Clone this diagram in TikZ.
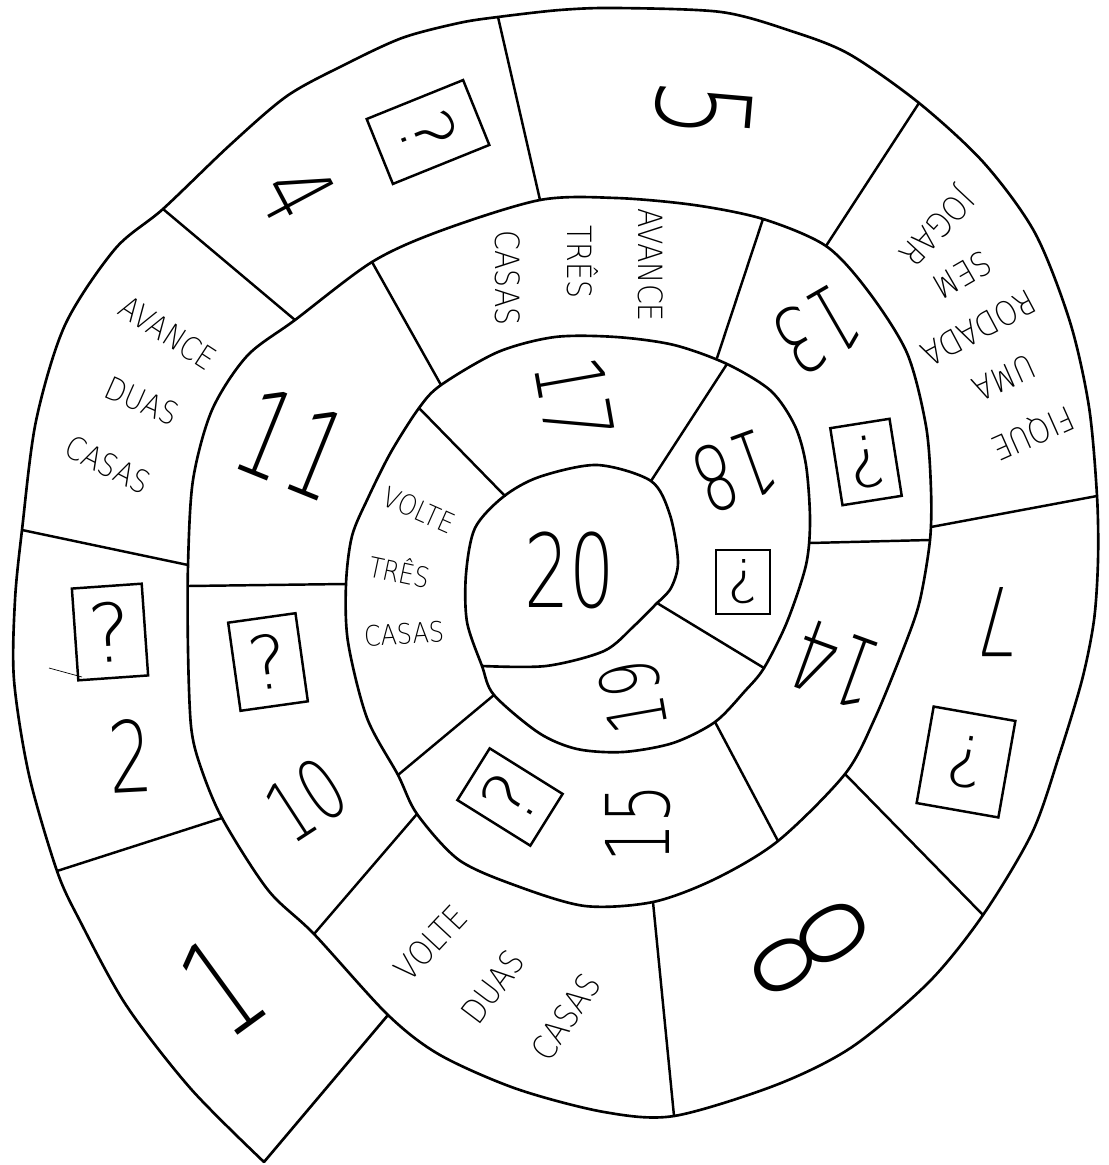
\documentclass[tikz,border=0pt]{standalone}
\usepackage{fontspec}
\setmainfont{DejaVu Sans}
\newfontfamily\numfont{DejaVu Sans ExtraLight}

\begin{document}
\begin{tikzpicture}[
		x=0.02cm, y=-0.02cm,
		% Track styles
		wall/.style={line width=1.5pt, line join=round, line cap=round},
		divider/.style={line width=1.4pt, line cap=round},
		% Label styles (size, angle)
		num/.style n args={2}{font=\numfont\fontsize{#1}{#1}\selectfont, inner sep=0pt, rotate=#2, xscale=0.7},
		words/.style n args={2}{font=\numfont\fontsize{#1}{#1}\selectfont, inner sep=0pt, rotate=#2, xscale=0.85},
		card/.style={draw, line width=1.4pt, inner sep=0pt, font=\numfont\fontsize{#1}{#1}\selectfont}
		]
		
		\useasboundingbox (0,0) rectangle (1108,1165);
		
		% --- SPIRAL TRACK ---
		
		% One line from the tip of cell 1 in to the centre
		\draw[wall] plot[smooth] coordinates {
			(264,1162) (191,1089) (126,1005) (80,921) (57,871) (29,775) (14,680) (15,600) (22,530) (36,421)
			(65,325) (115,249) (163,209) (230,145) (287,96) (344,65) (402,38) (459,23) (498,17) (560,10)
			(616,8) (721,12) (791,31) (849,54) (919,103) (984,163) (1035,233) (1070,322) (1089,407) (1097,496)
			(1098,560) (1094,620) (1082,680) (1059,756) (1032,833) (983,915) (929,982) (852,1047) (776,1085)
			(674,1116) (604,1112) (517,1089) (440,1055) (388,1015)
			(314,934) (268,890) (222,818) (200,765) (191,726) (188,650) (188,565) (193,480) (212,410) (247,356)
			(295,320) (372,262) (440,231) (540,200) (616,198) (694,205) (763,219) (826,246)
			(868,291) (907,353) (926,426) (931,490) (930,540) (920,600) (906,642) (875,718) (845,774) (778,841)
			(715,879) (653,902) (585,906) (517,886) (459,860) (417,814)
			(398,775) (367,718) (348,642) (346,584) (352,536) (368,498) (391,452) (419,408) (441,385) (498,352)
			(555,337) (616,337) (674,345) (727,364) (771,391) (795,426) (806,465) (810,520) (806,565) (787,622)
			(764,668) (745,691) (715,722) (673,743) (623,752) (577,749) (539,733) (494,695)
			(482,666) (467,622) (466,574) (475,528) (503,497) (539,477) (597,465) (651,481) (670,515) (678,562)
			(671,588) (657,603)
		};
		
		% Closing edge of cell 1, lower edge of cell 20
		\draw[wall] (388,1015) -- (264,1162);
		\draw[wall] plot[smooth] coordinates {(657,603) (634,626) (604,651) (546,666) (482,666)};
		
		% --- CELL DIVIDERS ---
		
		% Outer lap
		\draw[divider] (57,871) -- (222,818);
		\draw[divider] (22,530) -- (188,565);
		\draw[divider] (163,209) -- (295,320);
		\draw[divider] (498,17) -- (540,200);
		\draw[divider] (919,103) -- (826,246);
		\draw[divider] (1097,496) -- (931,527);
		\draw[divider] (983,915) -- (845,774);
		\draw[divider] (674,1116) -- (653,902);
		
		% Middle lap
		\draw[divider] (314,934) -- (417,814);
		\draw[divider] (188,586) -- (346,584);
		\draw[divider] (372,262) -- (441,385);
		\draw[divider] (763,219) -- (717,358);
		\draw[divider] (810,543) -- (930,540);
		\draw[divider] (715,722) -- (778,841);
		
		% Inner lap
		\draw[divider] (398,775) -- (494,695);
		\draw[divider] (419,408) -- (505,496);
		\draw[divider] (651,481) -- (727,364);
		\draw[divider] (657,603) -- (764,668);
		
		% Stray pen mark beside the card of cell 2
		\draw[line width=0.4pt] (49,668) -- (82,677);
		
		% --- NUMBERS ---
		\node[num={77}{36}] (n1) at (222,986) {1};
		\node[num={56}{3}] (n2) at (130,756) {2};
		\node[num={57}{-62}] (n4) at (297,193) {4};
		\node[num={74}{-95}] (n5) at (703,110) {5};
		\node[num={54}{180}] (n7) at (996,622) {7};
		\node[num={92}{123}] (n8) at (810,948) {8};
		\node[num={48}{33}] (n10) at (306,800) {10};
		\node[num={69}{-22}] (n11) at (293,444) {11};
		\node[num={52}{-150}] (n13) at (817,330) {13};
		\node[num={55}{160}] (n14) at (835,665) {14};
		\node[num={50}{90}] (n15) at (638,823) {15};
		\node[num={54}{-80}] (n17) at (575,400) {17};
		\node[num={51}{-160}] (n18) at (735,471) {18};
		\node[num={46}{100}] (n19) at (633,697) {19};
		\node[num={58}{0}] (n20) at (570,570) {20};
		
		% --- QUESTION CARDS ---
		\node[card=46, rotate=4, minimum width=1.4cm, minimum height=1.84cm] (q2) at (110,632) {?};
		\node[card=42, rotate=-68, minimum width=1.4cm, minimum height=2.08cm] (q4) at (428,132) {?};
		\node[card=40, rotate=170, minimum width=1.66cm, minimum height=1.96cm] (q7) at (966,762) {?};
		\node[card=42, rotate=8, minimum width=1.36cm, minimum height=1.78cm] (q10) at (268,662) {?};
		\node[card=40, rotate=189, minimum width=1.2cm, minimum height=1.56cm] (q13) at (866,462) {?};
		\node[card=42, rotate=58, minimum width=1.22cm, minimum height=1.72cm] (q15) at (510,797) {?};
		\node[card=34, rotate=180, minimum width=1.08cm, minimum height=1.28cm] (q18) at (743,582) {?};
		
		% --- ACTION CELLS ---
		
		% Cell 3
		\node[words={18}{-33}] (a3a) at (168,333) {AVANCE};
		\node[words={18}{-24}] (a3b) at (142,401) {DUAS};
		\node[words={18}{-27}] (a3c) at (108,465) {CASAS};
		
		% Cell 6
		\node[words={19}{204}] (a6a) at (1032,432) {FIQUE};
		\node[words={19}{204}] (a6b) at (1004,378) {UMA};
		\node[words={19}{208}] (a6c) at (979,328) {RODADA};
		\node[words={19}{210}] (a6d) at (962,275) {SEM};
		\node[words={19}{227}] (a6e) at (935,226) {JOGAR};
		
		% Cell 9
		\node[words={19}{47}] (a9a) at (431,943) {VOLTE};
		\node[words={19}{53}] (a9b) at (493,987) {DUAS};
		\node[words={19}{56}] (a9c) at (566,1017) {CASAS};
		
		% Cell 12
		\node[words={19}{-90}] (a12a) at (651,265) {AVANCE};
		\node[words={19}{-90}] (a12b) at (583,262) {TRÊS};
		\node[words={19}{-90}] (a12c) at (508,278) {CASAS};
		
		% Cell 16
		\node[words={16}{-24}] (a16a) at (419,510) {VOLTE};
		\node[words={16}{-12}] (a16b) at (400,570) {TRÊS};
		\node[words={16}{3}] (a16c) at (404,634) {CASAS};
		
	\end{tikzpicture}
\end{document}
